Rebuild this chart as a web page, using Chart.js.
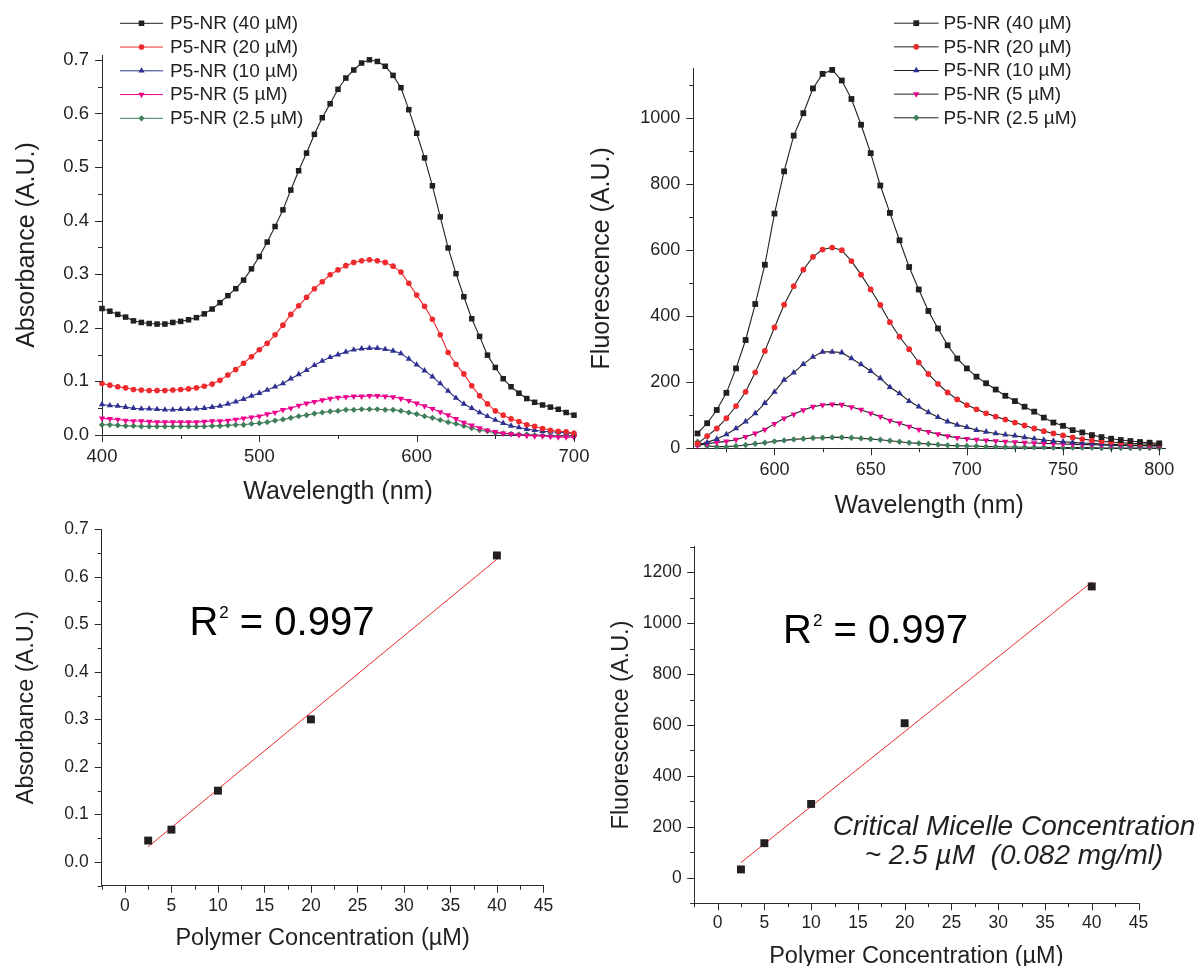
<!DOCTYPE html>
<html>
<head>
<meta charset="utf-8">
<script src="https://cdn.jsdelivr.net/npm/chart.js@4.4.1/dist/chart.umd.min.js"></script>
<style>
html,body{margin:0;padding:0;background:#fff;overflow:hidden;width:1201px;height:966px;}
canvas{position:absolute;}
</style>
</head>
<body>
<canvas id="cA" width="600" height="520" style="left:0px;top:0px;"></canvas>
<canvas id="cB" width="621" height="530" style="left:580px;top:0px;"></canvas>
<canvas id="cC" width="600" height="466" style="left:0px;top:500px;"></canvas>
<canvas id="cD" width="621" height="480" style="left:580px;top:500px;"></canvas>
<script>
// ---------------- DATA ----------------
const seriesLabels = ['P5-NR (40 µM)', 'P5-NR (20 µM)', 'P5-NR (10 µM)', 'P5-NR (5 µM)', 'P5-NR (2.5 µM)'];

// Absorbance spectra (top-left)
const absWavelength = [400,405,410,415,420,425,430,435,440,445,450,455,460,465,470,475,480,485,490,495,
  500,505,510,515,520,525,530,535,540,545,550,555,560,565,570,575,580,585,590,595,
  600,605,610,615,620,625,630,635,640,645,650,655,660,665,670,675,680,685,690,695,700];
const abs40 = [0.236,0.231,0.225,0.220,0.213,0.210,0.208,0.207,0.207,0.210,
  0.212,0.215,0.219,0.226,0.235,0.247,0.260,0.273,0.289,0.310,
  0.333,0.360,0.389,0.420,0.457,0.493,0.526,0.561,0.592,0.618,
  0.645,0.666,0.681,0.694,0.700,0.697,0.688,0.671,0.648,0.607,
  0.563,0.517,0.465,0.407,0.349,0.301,0.258,0.217,0.184,0.149,
  0.126,0.105,0.090,0.078,0.068,0.061,0.056,0.052,0.048,0.042,0.037];
const abs20 = [0.096,0.093,0.090,0.088,0.085,0.084,0.083,0.083,0.083,0.084,
  0.085,0.086,0.088,0.091,0.095,0.102,0.112,0.122,0.134,0.146,
  0.159,0.171,0.187,0.205,0.225,0.241,0.257,0.273,0.286,0.299,
  0.308,0.316,0.322,0.325,0.327,0.325,0.322,0.315,0.304,0.283,
  0.261,0.240,0.216,0.187,0.154,0.132,0.114,0.092,0.073,0.058,
  0.045,0.037,0.030,0.025,0.019,0.016,0.012,0.009,0.007,0.006,0.003];
const abs10 = [0.057,0.055,0.054,0.052,0.050,0.049,0.049,0.048,0.047,0.047,
  0.048,0.048,0.049,0.050,0.052,0.054,0.058,0.062,0.067,0.073,
  0.078,0.084,0.090,0.096,0.105,0.113,0.121,0.130,0.138,0.145,
  0.150,0.155,0.159,0.161,0.162,0.162,0.160,0.157,0.152,0.142,
  0.131,0.120,0.109,0.096,0.082,0.069,0.058,0.050,0.042,0.035,
  0.028,0.022,0.017,0.014,0.011,0.009,0.007,0.006,0.005,0.004,0.003];
const abs5 = [0.031,0.030,0.029,0.027,0.026,0.026,0.025,0.024,0.024,0.024,
  0.024,0.024,0.024,0.025,0.026,0.026,0.027,0.029,0.031,0.033,
  0.035,0.039,0.042,0.047,0.050,0.055,0.059,0.062,0.065,0.068,
  0.070,0.071,0.072,0.072,0.073,0.073,0.072,0.071,0.068,0.064,
  0.059,0.054,0.049,0.043,0.037,0.030,0.023,0.018,0.013,0.009,
  0.006,0.003,0.002,0.000,-0.001,-0.002,-0.002,-0.003,-0.004,-0.004,-0.004];
const abs2_5 = [0.019,0.019,0.018,0.017,0.017,0.016,0.016,0.016,0.016,0.016,
  0.016,0.016,0.016,0.016,0.017,0.017,0.018,0.019,0.019,0.021,
  0.022,0.024,0.027,0.029,0.032,0.035,0.037,0.040,0.042,0.044,
  0.045,0.047,0.047,0.048,0.048,0.048,0.047,0.047,0.045,0.042,
  0.039,0.035,0.032,0.028,0.024,0.021,0.017,0.013,0.009,0.007,
  0.004,0.003,0.002,0.001,0.001,0.000,-0.001,-0.001,-0.002,-0.002,-0.002];

// Fluorescence spectra (top-right)
const fluWavelength = [560,565,570,575,580,585,590,595,600,605,610,615,620,625,630,635,640,645,650,655,
  660,665,670,675,680,685,690,695,700,705,710,715,720,725,730,735,740,745,750,755,
  760,765,770,775,780,785,790,795,800];
const flu40 = [45,76,116,168,242,328,437,556,711,839,
  947,1015,1090,1134,1146,1114,1058,980,894,796,
  713,630,549,481,416,363,312,272,242,217,
  197,178,159,143,126,111,93,78,68,55,
  48,40,34,29,25,22,19,17,15];
const flu20 = [14,37,60,91,128,171,230,295,366,435,
  491,541,580,602,608,600,567,526,481,434,
  382,338,300,260,225,195,169,148,131,118,
  106,96,87,78,69,60,52,45,39,33,
  28,24,21,19,17,15,14,13,12];
const flu10 = [10,18,28,42,60,81,106,137,171,207,
  229,255,277,292,292,290,272,254,234,212,
  185,166,143,126,109,94,81,71,64,55,
  50,45,41,38,33,29,25,22,20,18,
  16,15,13,12,11,10,9,9,8];
const flu5 = [8,14,18,21,26,35,45,57,74,91,
  103,116,126,131,133,132,125,117,106,96,
  84,76,66,57,50,43,37,32,29,26,
  24,22,20,19,17,16,15,14,13,12,
  11,11,10,9,9,8,8,7,7];
const flu2_5 = [20,7,5,5,7,10,14,17,21,24,
  27,29,31,32,33,33,32,30,28,26,
  23,20,17,15,13,11,9,8,7,6,
  5,5,4,4,3,3,3,2,2,2,
  2,2,1,1,1,1,1,1,1];

// Calibration (bottom panels)
const concentration = [2.5, 5, 10, 20, 40];
const absAtPeak = [0.045, 0.068, 0.150, 0.300, 0.645];
const fluAtPeak = [33, 136, 290, 607, 1144];
const fitConc = [2.5, 40];
const absFit = [0.032, 0.637];
const fluFit = [60, 1161];

// Tick values
const absWaveMajor = [400, 500, 600, 700];
const absWaveMinor = [450, 550, 650];
const absMajor = [0.0, 0.1, 0.2, 0.3, 0.4, 0.5, 0.6, 0.7];
const absMinor = [0.05, 0.15, 0.25, 0.35, 0.45, 0.55, 0.65];
const fluWaveMajor = [600, 650, 700, 750, 800];
const fluWaveMinor = [575, 625, 675, 725, 775];
const fluMajor = [0, 200, 400, 600, 800, 1000];
const fluMinor = [100, 300, 500, 700, 900, 1100];
const concMajor = [0, 5, 10, 15, 20, 25, 30, 35, 40, 45];
const concMinor = [-2.5, 2.5, 7.5, 12.5, 17.5, 22.5, 27.5, 32.5, 37.5, 42.5];
const absCalMinor = [-0.05, 0.05, 0.15, 0.25, 0.35, 0.45, 0.55, 0.65];
const fluCalMajor = [0, 200, 400, 600, 800, 1000, 1200];
const fluCalMinor = [-100, 100, 300, 500, 700, 900, 1100, 1300];

// ---------------- STYLE ----------------
const FONT = "'Liberation Sans', Arial, Helvetica, sans-serif";
const INK = '#231f20';
const AXIS = '#2b2b2b';
const seriesColors = ['#231f20', '#ee2a2e', '#2e3192', '#ec008c', '#3f7f5c'];
const pointStyles = ['rect', 'circle', 'triangle', 'triangle', 'rectRot'];
const pointRotations = [0, 0, 0, 180, 0];

function xy(xs, ys) { return xs.map((x, i) => ({ x: x, y: ys[i] })); }

function linScale(o) {
  return {
    type: 'linear', position: o.pos, min: o.min, max: o.max, bounds: 'data',
    grid: { display: false, drawTicks: false },
    border: { display: true, color: AXIS, width: 1 },
    afterBuildTicks: s => { s.ticks = o.major.map(v => ({ value: v })); },
    afterFit: s => { if (o.pos === 'left') s.width = o.fixed; else s.height = o.fixed; },
    ticks: { autoSkip: false, maxRotation: 0, minRotation: 0, padding: o.tickPad, color: INK,
      font: { family: FONT, size: o.tickSize }, callback: v => o.fmt(v) },
    title: { display: true, text: o.title, color: INK, font: { family: FONT, size: o.titleSize },
      padding: o.pos === 'left' ? { top: o.titlePad, bottom: 0 } : { top: 0, bottom: o.titlePad } }
  };
}

function markerPath(ctx, style, rot, r, x, y) {
  if (Chart.helpers && Chart.helpers.drawPoint) {
    Chart.helpers.drawPoint(ctx, { pointStyle: style, radius: r, rotation: rot, borderWidth: 0 }, x, y);
    return;
  }
  ctx.beginPath();
  if (style === 'rect') { const s = r * Math.SQRT1_2; ctx.rect(x - s, y - s, 2 * s, 2 * s); }
  else if (style === 'circle') { ctx.arc(x, y, r, 0, Math.PI * 2); }
  else if (style === 'rectRot') { ctx.moveTo(x - r, y); ctx.lineTo(x, y - r); ctx.lineTo(x + r, y); ctx.lineTo(x, y + r); ctx.closePath(); }
  else { const d = rot ? -1 : 1; ctx.moveTo(x, y - d * r); ctx.lineTo(x + r * 0.866, y + d * r / 2); ctx.lineTo(x - r * 0.866, y + d * r / 2); ctx.closePath(); }
  ctx.fill();
}

// ---------------- PLUGINS ----------------
const originTicks = {
  id: 'originTicks',
  afterDraw(chart, args, opts) {
    const ctx = chart.ctx, ca = chart.chartArea;
    ctx.save();
    ctx.strokeStyle = AXIS; ctx.lineWidth = 1;
    ['x', 'y'].forEach(id => {
      const s = chart.scales[id], t = opts[id];
      if (!s || !t) return;
      const draw = (vals, len) => vals.forEach(v => {
        const p = Math.round(s.getPixelForValue(v)) + 0.5;
        ctx.beginPath();
        if (id === 'x') { ctx.moveTo(p, ca.bottom); ctx.lineTo(p, ca.bottom + len); }
        else { ctx.moveTo(ca.left, p); ctx.lineTo(ca.left - len, p); }
        ctx.stroke();
      });
      draw(t.major, 7); draw(t.minor, 4);
    });
    ctx.restore();
  }
};

const sideLegend = {
  id: 'sideLegend',
  afterDraw(chart, args, o) {
    if (!o || !o.display) return;
    const ctx = chart.ctx;
    chart.data.datasets.forEach((ds, i) => {
      const y = o.y + i * o.dy;
      ctx.save();
      ctx.strokeStyle = ds.borderColor; ctx.lineWidth = 1;
      ctx.beginPath(); ctx.moveTo(o.x0, y + 0.5); ctx.lineTo(o.x1, y + 0.5); ctx.stroke();
      ctx.fillStyle = ds.pointBackgroundColor; ctx.strokeStyle = ds.pointBackgroundColor;
      markerPath(ctx, ds.pointStyle, ds.pointRotation || 0, ds.pointRadius, (o.x0 + o.x1) / 2, y + 0.5);
      ctx.fillStyle = INK; ctx.font = o.size + 'px ' + FONT;
      ctx.textAlign = 'left'; ctx.textBaseline = 'middle';
      ctx.fillText(ds.label, o.tx, y + 1);
      ctx.restore();
    });
  }
};

const textNotes = {
  id: 'textNotes',
  afterDraw(chart, args, o) {
    const ctx = chart.ctx;
    ctx.save();
    ctx.fillStyle = '#000';
    ctx.textBaseline = 'alphabetic';
    if (o.r2) {
      const r = o.r2;
      ctx.textAlign = 'left';
      ctx.font = r.size + 'px ' + FONT;
      ctx.fillText('R', r.x, r.y);
      let x = r.x + ctx.measureText('R').width;
      ctx.font = r.supSize + 'px ' + FONT;
      ctx.fillText('2', x + 1, r.y - r.supRaise);
      x += 1 + ctx.measureText('2').width;
      ctx.font = r.size + 'px ' + FONT;
      ctx.fillText(' = ' + r.value, x, r.y);
    }
    (o.lines || []).forEach(l => {
      ctx.font = (l.italic ? 'italic ' : '') + l.size + 'px ' + FONT;
      ctx.textAlign = 'center';
      ctx.fillStyle = INK;
      ctx.fillText(l.text, l.x, l.y);
    });
    ctx.restore();
  }
};

Chart.defaults.font.family = FONT;
Chart.defaults.color = INK;

function spectrumSets(xs, series, lineColors, radii) {
  return series.map((ys, i) => ({
    label: seriesLabels[i],
    data: xy(xs, ys),
    borderColor: lineColors[i],
    borderWidth: 1.1,
    backgroundColor: seriesColors[i],
    pointBackgroundColor: seriesColors[i],
    pointBorderColor: seriesColors[i],
    pointBorderWidth: 0,
    pointStyle: pointStyles[i],
    pointRotation: pointRotations[i],
    pointRadius: radii[i],
    pointHoverRadius: radii[i],
    tension: 0,
    clip: false
  }));
}

const common = { responsive: false, animation: false, events: [] };

// ---------------- PANEL A: absorbance spectra ----------------
new Chart(document.getElementById('cA'), {
  type: 'line',
  data: { datasets: spectrumSets(absWavelength, [abs40, abs20, abs10, abs5, abs2_5], seriesColors, [3.9, 2.8, 3.6, 3.6, 3.1]) },
  options: Object.assign({}, common, {
    layout: { padding: { top: 55, right: 26, bottom: 0, left: 0 } },
    plugins: {
      legend: { display: false }, tooltip: { enabled: false },
      originTicks: { x: { major: absWaveMajor, minor: absWaveMinor }, y: { major: absMajor, minor: absMinor } },
      sideLegend: { display: true, x0: 120, x1: 163, tx: 170, y: 22.8, dy: 23.75, size: 19 },
      textNotes: {}
    },
    scales: {
      x: linScale({ pos: 'bottom', min: 400, max: 700, major: absWaveMajor, fixed: 85, tickPad: 10.5, tickSize: 18.5,
        title: 'Wavelength (nm)', titleSize: 25, titlePad: 12.5, fmt: v => String(v) }),
      y: linScale({ pos: 'left', min: 0, max: 0.709, major: absMajor, fixed: 102, tickPad: 13, tickSize: 18.5,
        title: 'Absorbance (A.U.)', titleSize: 25, titlePad: 11.8, fmt: v => v.toFixed(1) })
    }
  }),
  plugins: [originTicks, sideLegend, textNotes]
});

// ---------------- PANEL B: fluorescence spectra ----------------
new Chart(document.getElementById('cB'), {
  type: 'line',
  data: { datasets: spectrumSets(fluWavelength, [flu40, flu20, flu10, flu5, flu2_5], [INK, INK, INK, INK, INK], [4.1, 2.9, 3.7, 3.7, 3.2]) },
  options: Object.assign({}, common, {
    layout: { padding: { top: 68.3, right: 36, bottom: 0, left: 0 } },
    plugins: {
      legend: { display: false }, tooltip: { enabled: false },
      originTicks: { x: { major: fluWaveMajor, minor: fluWaveMinor }, y: { major: fluMajor, minor: fluMinor } },
      sideLegend: { display: true, x0: 314, x1: 358.5, tx: 363.5, y: 22.7, dy: 23.65, size: 19 },
      textNotes: {}
    },
    scales: {
      x: linScale({ pos: 'bottom', min: 557.8, max: 803, major: fluWaveMajor, fixed: 81.7, tickPad: 10.6, tickSize: 18,
        title: 'Wavelength (nm)', titleSize: 25, titlePad: 9, fmt: v => String(v) }),
      y: linScale({ pos: 'left', min: 0, max: 1151, major: fluMajor, fixed: 113.3, tickPad: 13, tickSize: 18,
        title: 'Fluorescence (A.U.)', titleSize: 25, titlePad: 6.7, fmt: v => String(v) })
    }
  }),
  plugins: [originTicks, sideLegend, textNotes]
});

function calibrationSets(ys, fitYs) {
  return [
    { label: 'Linear fit', data: xy(fitConc, fitYs), borderColor: '#ee2a2e', borderWidth: 1,
      pointRadius: 0, pointHoverRadius: 0, tension: 0, clip: false, order: 2 },
    { label: 'Data', data: xy(concentration, ys), showLine: false, borderColor: INK,
      backgroundColor: INK, pointBackgroundColor: INK, pointBorderWidth: 0, pointStyle: 'rect',
      pointRadius: 5.6, pointHoverRadius: 5.6, clip: false, order: 1 }
  ];
}

// ---------------- PANEL C: absorbance vs concentration ----------------
new Chart(document.getElementById('cC'), {
  type: 'line',
  data: { datasets: calibrationSets(absAtPeak, absFit) },
  options: Object.assign({}, common, {
    layout: { padding: { top: 29.3, right: 56.6, bottom: 0, left: 0 } },
    plugins: {
      legend: { display: false }, tooltip: { enabled: false },
      originTicks: { x: { major: concMajor, minor: concMinor }, y: { major: absMajor, minor: absCalMinor } },
      textNotes: { r2: { x: 189.4, y: 135, size: 40, supSize: 17, supRaise: 17, value: '0.997' } }
    },
    scales: {
      x: linScale({ pos: 'bottom', min: -2.5, max: 45, major: concMajor, fixed: 80.3, tickPad: 9.8, tickSize: 17.5,
        title: 'Polymer Concentration (µM)', titleSize: 23.5, titlePad: 13.2, fmt: v => String(v) }),
      y: linScale({ pos: 'left', min: -0.05, max: 0.7, major: absMajor, fixed: 101.7, tickPad: 13, tickSize: 17.5,
        title: 'Absorbance (A.U.)', titleSize: 23.5, titlePad: 12.7, fmt: v => v.toFixed(1) })
    }
  }),
  plugins: [originTicks, textNotes]
});

// ---------------- PANEL D: fluorescence vs concentration ----------------
new Chart(document.getElementById('cD'), {
  type: 'line',
  data: { datasets: calibrationSets(fluAtPeak, fluFit) },
  options: Object.assign({}, common, {
    layout: { padding: { top: 46.7, right: 62.5, bottom: 0, left: 0 } },
    plugins: {
      legend: { display: false }, tooltip: { enabled: false },
      originTicks: { x: { major: concMajor, minor: concMinor }, y: { major: fluCalMajor, minor: fluCalMinor } },
      textNotes: {
        r2: { x: 203, y: 143.3, size: 40, supSize: 17, supRaise: 17, value: '0.997' },
        lines: [
          { text: 'Critical Micelle Concentration', x: 434, y: 335, size: 28, italic: true },
          { text: '~ 2.5 µM  (0.082 mg/ml)', x: 434, y: 364, size: 28, italic: true }
        ]
      }
    },
    scales: {
      x: linScale({ pos: 'bottom', min: -2.5, max: 45, major: concMajor, fixed: 76.7, tickPad: 9.5, tickSize: 17.5,
        title: 'Polymer Concentration (µM)', titleSize: 23.5, titlePad: 8.9, fmt: v => String(v) }),
      y: linScale({ pos: 'left', min: -100, max: 1300, major: fluCalMajor, fixed: 114.2, tickPad: 12.5, tickSize: 17.5,
        title: 'Fluorescence (A.U.)', titleSize: 23.5, titlePad: 27.7, fmt: v => String(v) })
    }
  }),
  plugins: [originTicks, textNotes]
});
</script>
</body>
</html>
